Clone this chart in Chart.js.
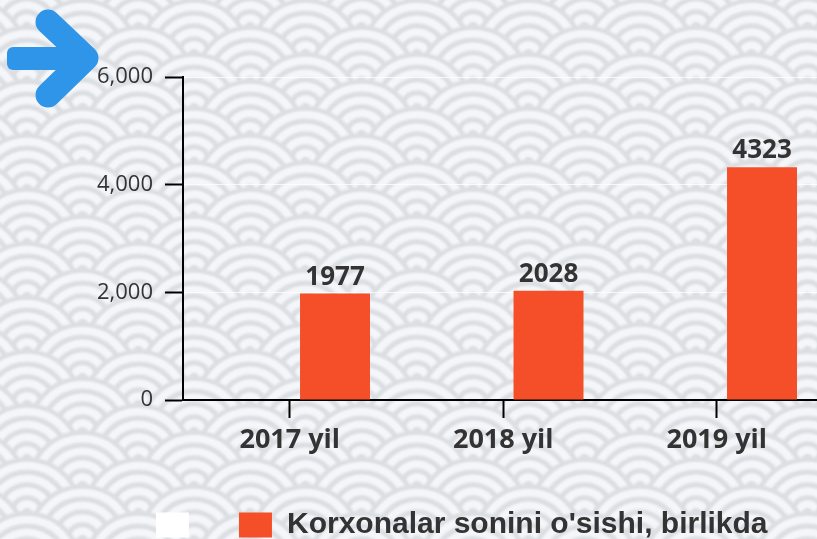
<!DOCTYPE html>
<html>
<head>
<meta charset="utf-8">
<script src="https://cdn.jsdelivr.net/npm/chart.js@4/dist/chart.umd.min.js"></script>
<style>
html, body { margin: 0; padding: 0; overflow: hidden; background: #eef1f5; }
#wrap { position: relative; width: 830px; height: 550px; }
</style>
</head>
<body>
<div id="wrap"><canvas id="chart" width="830" height="550"></canvas></div>
<script>
// chart data
let years = ['2017 yil', '2018 yil', '2019 yil']
let blankValues = [null, null, null]
let growthValues = [1977, 2028, 4323]
let seriesLabels = ['   ', "Korxonalar sonini o'sishi, birlikda"]
let yMax = 6000
let yStep = 2000

// seigaiha wave background
function drawWaves(ctx, w, h) {
    let r = 55.75
    let grey = '#dbdee2', white = '#f4f6f9'
    let bands = [[1.0, grey], [0.92, white], [0.78, grey], [0.69, white], [0.55, grey],
                 [0.46, white], [0.32, grey], [0.23, white], [0.09, grey]]
    ctx.save()
    ctx.fillStyle = '#eef1f5'
    ctx.fillRect(0, 0, w, h)
    ctx.filter = 'blur(0.8px)'
    for (let k = -3; k * 27 < h + 2 * r; k++) {
        let y = k * 27
        let x0 = (k % 2 === 0) ? -29 : 27
        for (let x = x0 - 2 * r; x < w + 2 * r; x += 2 * r) {
            bands.forEach(b => {
                ctx.beginPath()
                ctx.arc(x, y, r * b[0], 0, Math.PI * 2)
                ctx.fillStyle = b[1]
                ctx.fill()
            })
        }
    }
    ctx.restore()
}

let background = {
    id: 'background',
    beforeDraw(chart) {
        drawWaves(chart.ctx, chart.width, chart.height)
    }
}

// legend sits a bit right of centre in the original
let legendShift = {
    id: 'legendShift',
    afterLayout(chart) {
        chart.legend.left += 50
        chart.legend.right += 50
    }
}

let barValues = {
    id: 'barValues',
    afterDatasetsDraw(chart) {
        let ctx = chart.ctx
        let meta = chart.getDatasetMeta(1)
        ctx.save()
        ctx.font = 'bold 26px "Open Sans"'
        ctx.fillStyle = '#333'
        ctx.textAlign = 'center'
        ctx.textBaseline = 'alphabetic'
        meta.data.forEach((bar, i) => {
            ctx.fillText(growthValues[i], bar.x, bar.y - 9)
        })
        ctx.restore()
    }
}

let arrow = {
    id: 'arrow',
    afterDraw(chart) {
        let ctx = chart.ctx
        ctx.save()
        ctx.strokeStyle = '#2e95e8'
        ctx.fillStyle = '#2e95e8'
        ctx.lineWidth = 25
        ctx.lineCap = 'round'
        ctx.lineJoin = 'round'
        ctx.beginPath()
        ctx.moveTo(48, 22)
        ctx.lineTo(86, 58)
        ctx.lineTo(48, 95)
        ctx.stroke()
        ctx.beginPath()
        ctx.roundRect(7, 47, 82, 23, 6)
        ctx.fill()
        ctx.restore()
    }
}

let ctx = document.querySelector('#chart').getContext('2d')

let growthChart = new Chart(ctx, {
    type: 'bar',
    data: {
        labels: years,
        datasets: [{
            label: seriesLabels[0],
            data: blankValues,
            backgroundColor: '#ffffff',
            borderWidth: 0
        }, {
            label: seriesLabels[1],
            data: growthValues,
            backgroundColor: '#f54f29',
            borderWidth: 0
        }]
    },
    options: {
        responsive: false,
        animation: false,
        categoryPercentage: 0.848,
        barPercentage: 0.773,
        layout: { padding: { top: 77, right: 6.5, left: 0, bottom: 0 } },
        scales: {
            x: {
                grid: { offset: false, drawOnChartArea: false, tickLength: 18, tickColor: '#000', tickWidth: 2 },
                border: { color: '#000', width: 2 },
                ticks: { color: '#333', padding: 6, font: { family: '"Open Sans"', size: 27, weight: 'bold' } },
                afterFit(scale) { scale.height = 100 }
            },
            y: {
                min: 0,
                max: yMax,
                grid: { color: 'rgba(255,255,255,0.75)', lineWidth: 1, tickLength: 18, tickColor: '#000', tickWidth: 2 },
                border: { color: '#000', width: 2 },
                ticks: { stepSize: yStep, color: '#333', padding: 12, font: { family: '"Open Sans"', size: 22 } },
                afterFit(scale) { scale.width = 183 }
            }
        },
        plugins: {
            legend: {
                position: 'bottom',
                labels: {
                    color: '#333',
                    boxWidth: 33,
                    boxHeight: 25,
                    padding: 10,
                    font: { family: '"Liberation Sans", Arial, sans-serif', size: 30, weight: 'bold' }
                }
            },
            tooltip: { enabled: false }
        }
    },
    plugins: [background, legendShift, barValues, arrow]
})
</script>
</body>
</html>
